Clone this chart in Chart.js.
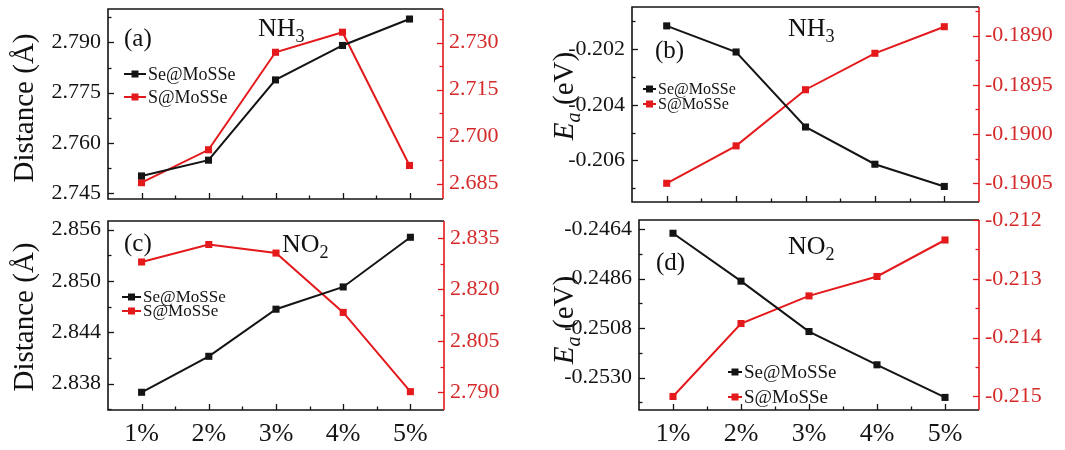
<!DOCTYPE html>
<html>
<head>
<meta charset="utf-8">
<script src="https://cdn.jsdelivr.net/npm/chart.js@4.4.0/dist/chart.umd.min.js"></script>
<style>
html, body { margin: 0; padding: 0; background: #fff; }
#wrap { position: relative; width: 1065px; height: 450px; overflow: hidden; font-family: "Liberation Serif", "Times New Roman", serif; color: #111; }
#wrap canvas { position: absolute; left: 0; top: 0; }
.t { position: absolute; white-space: nowrap; line-height: 1; }
.rot { transform: translate(-50%, -50%) rotate(-90deg); font-size: 29px; }
.lab { font-size: 25px; }
.gas { font-size: 26px; }
sub { font-size: 0.7em; vertical-align: -0.35em; line-height: 0; }
</style>
</head>
<body>
<div id="wrap">
  <canvas id="ca" width="1065" height="450"></canvas>
  <canvas id="cb" width="1065" height="450"></canvas>
  <canvas id="cc" width="1065" height="450"></canvas>
  <canvas id="cd" width="1065" height="450"></canvas>

  <div class="t rot" style="left:23px;top:108px">Distance (Å)</div>
  <div class="t rot" style="left:23px;top:317px">Distance (Å)</div>
  <div class="t rot" style="left:563px;top:96px"><i>E</i><sub><i>a</i></sub> (eV)</div>
  <div class="t rot" style="left:563px;top:320px"><i>E</i><sub><i>a</i></sub> (eV)</div>

  <div class="t lab" style="left:124px;top:25px">(a)</div>
  <div class="t gas" style="left:258px;top:15px">NH<sub>3</sub></div>
  <div class="t lab" style="left:655px;top:37px">(b)</div>
  <div class="t gas" style="left:788px;top:15px">NH<sub>3</sub></div>
  <div class="t lab" style="left:124px;top:230px">(c)</div>
  <div class="t gas" style="left:282px;top:231px">NO<sub>2</sub></div>
  <div class="t lab" style="left:656px;top:249px">(d)</div>
  <div class="t gas" style="left:788px;top:233px">NO<sub>2</sub></div>
</div>
<script>
// strain levels and the two adsorption sites
const categories = ["1%", "2%", "3%", "4%", "5%"];
const seriesNames = ["Se@MoSSe", "S@MoSSe"];

// (a) NH3 distance, (b) NH3 Ea
const distNH3Se = [2.7501, 2.7548, 2.7788, 2.7891, 2.7970];
const distNH3S = [2.6853, 2.6958, 2.7269, 2.7333, 2.6908];
const eaNH3Se = [-0.20116, -0.2021, -0.2048, -0.20614, -0.20694];
const eaNH3S = [-0.1905, -0.19012, -0.18955, -0.18918, -0.18891];

// (c) NO2 distance, (d) NO2 Ea
const distNO2Se = [2.8370, 2.8412, 2.8467, 2.8493, 2.8551];
const distNO2S = [2.8280, 2.8331, 2.8306, 2.8133, 2.7902];
const eaNO2Se = [-0.24658, -0.24871, -0.25095, -0.25243, -0.25388];
const eaNO2S = [-0.2150, -0.21376, -0.21329, -0.21296, -0.21234];

// tick labels
const ticksDistNH3L = [2.745, 2.760, 2.775, 2.790];
const ticksDistNH3R = [2.685, 2.700, 2.715, 2.730];
const ticksEaNH3L = [-0.206, -0.204, -0.202];
const ticksEaNH3R = [-0.1905, -0.1900, -0.1895, -0.1890];
const ticksDistNO2L = [2.838, 2.844, 2.850, 2.856];
const ticksDistNO2R = [2.790, 2.805, 2.820, 2.835];
const ticksEaNO2L = [-0.2530, -0.2508, -0.2486, -0.2464];
const ticksEaNO2R = [-0.215, -0.214, -0.213, -0.212];

const W = 1065, H = 450;
const FONT = '"Liberation Serif", "Times New Roman", serif';
const BLACK = "#141414";
const RED = "#e3191c";
const RED_TXT = "#d42a2a";

const panels = [
	{ id: "ca", se: distNH3Se, s: distNH3S, lt: ticksDistNH3L, rt: ticksDistNH3R, ld: 3, rd: 3,
	  box: { l: 108, t: 9, r: 443, b: 199 }, yl: [2.7432, 2.8000], yr: [2.6801, 2.7407], xLabels: false,
	  legend: { x0: 124, x1: 146, y: [74, 97], size: 18 } },
	{ id: "cb", se: eaNH3Se, s: eaNH3S, lt: ticksEaNH3L, rt: ticksEaNH3R, ld: 3, rd: 4,
	  box: { l: 632, t: 7, r: 979, b: 202 }, yl: [-0.2075, -0.20048], yr: [-0.19069, -0.18871], xLabels: false,
	  legend: { x0: 643, x1: 656, y: [89, 104], size: 16 } },
	{ id: "cc", se: distNO2Se, s: distNO2S, lt: ticksDistNO2L, rt: ticksDistNO2R, ld: 3, rd: 3,
	  box: { l: 108, t: 221, r: 444, b: 410 }, yl: [2.83493, 2.8570], yr: [2.78485, 2.83995], xLabels: true,
	  legend: { x0: 122, x1: 141, y: [297, 311], size: 17 } },
	{ id: "cd", se: eaNO2Se, s: eaNO2S, lt: ticksEaNO2L, rt: ticksEaNO2R, ld: 4, rd: 3,
	  box: { l: 639, t: 220, r: 979, b: 410 }, yl: [-0.25444, -0.24599], yr: [-0.21523, -0.2120], xLabels: true,
	  legend: { x0: 728, x1: 742, y: [372, 397], size: 19 } },
];

function drawAxisTicks(ctx, scale, ticks, x, dir, color) {
	const half = (ticks[1] - ticks[0]) / 2;
	const eps = Math.abs(half) * 0.01;
	ctx.strokeStyle = color;
	for (let k = -30; k <= 40; k++) {
		const v = ticks[0] + k * half;
		if (v < scale.min - eps || v > scale.max + eps) continue;
		const y = Math.round(scale.getPixelForValue(v)) + 0.5;
		const len = k % 2 === 0 ? 6 : 3.5;
		ctx.beginPath();
		ctx.moveTo(x, y);
		ctx.lineTo(x + dir * len, y);
		ctx.stroke();
	}
}

function makeFrame(p) {
	return {
		id: "frame" + p.id,
		afterDatasetsDraw(chart) {
			const ctx = chart.ctx;
			const a = chart.chartArea;
			const xs = chart.scales.x;
			ctx.save();
			ctx.lineWidth = 1.6;
			// box
			ctx.strokeStyle = BLACK;
			ctx.beginPath();
			ctx.moveTo(a.right, a.top);
			ctx.lineTo(a.left, a.top);
			ctx.lineTo(a.left, a.bottom);
			ctx.lineTo(a.right, a.bottom);
			ctx.stroke();
			ctx.strokeStyle = RED;
			ctx.beginPath();
			ctx.moveTo(a.right, a.top);
			ctx.lineTo(a.right, a.bottom);
			ctx.stroke();
			// inward ticks
			ctx.lineWidth = 1.3;
			drawAxisTicks(ctx, chart.scales.y, p.lt, a.left, 1, BLACK);
			drawAxisTicks(ctx, chart.scales.y1, p.rt, a.right, -1, RED);
			ctx.strokeStyle = BLACK;
			for (let i = 0; i < categories.length; i++) {
				const x = Math.round(xs.getPixelForValue(i)) + 0.5;
				ctx.beginPath();
				ctx.moveTo(x, a.bottom);
				ctx.lineTo(x, a.bottom - 6);
				ctx.stroke();
				if (i < categories.length - 1) {
					const xm = Math.round((xs.getPixelForValue(i) + xs.getPixelForValue(i + 1)) / 2) + 0.5;
					ctx.beginPath();
					ctx.moveTo(xm, a.bottom);
					ctx.lineTo(xm, a.bottom - 3.5);
					ctx.stroke();
				}
			}
			// legend
			const lg = p.legend;
			ctx.font = lg.size + "px " + FONT;
			ctx.textBaseline = "middle";
			chart.data.datasets.forEach((ds, i) => {
				const y = lg.y[i];
				ctx.strokeStyle = ds.borderColor;
				ctx.lineWidth = 2;
				ctx.beginPath();
				ctx.moveTo(lg.x0, y);
				ctx.lineTo(lg.x1, y);
				ctx.stroke();
				ctx.fillStyle = ds.borderColor;
				ctx.fillRect((lg.x0 + lg.x1) / 2 - 3.5, y - 3.5, 7, 7);
				ctx.fillStyle = BLACK;
				ctx.fillText(ds.label, lg.x1 + 2, y + 1);
			});
			ctx.restore();
		},
	};
}

function fitY(width) {
	return (s) => {
		s.width = width;
		s.paddingTop = 0;
		s.paddingBottom = 0;
	};
}

function makeChart(p) {
	new Chart(document.getElementById(p.id), {
		type: "line",
		data: {
			labels: categories,
			datasets: [
				{ label: seriesNames[0], data: p.se, yAxisID: "y", borderColor: BLACK, backgroundColor: BLACK,
				  borderWidth: 2, pointStyle: "rect", pointRadius: 5, pointBorderWidth: 0, tension: 0 },
				{ label: seriesNames[1], data: p.s, yAxisID: "y1", borderColor: RED, backgroundColor: RED,
				  borderWidth: 2, pointStyle: "rect", pointRadius: 5, pointBorderWidth: 0, tension: 0 },
			],
		},
		options: {
			responsive: false,
			animation: false,
			layout: { padding: { top: p.box.t, left: 0, right: 0, bottom: 0 } },
			plugins: { legend: { display: false }, tooltip: { enabled: false } },
			scales: {
				x: {
					offset: true,
					grid: { display: false, drawTicks: false },
					border: { display: false },
					ticks: { display: p.xLabels, color: BLACK, font: { family: FONT, size: 26 }, padding: 9 },
					afterFit: (s) => {
						s.height = H - p.box.b;
						s.paddingLeft = 0;
						s.paddingRight = 0;
					},
				},
				y: {
					position: "left",
					min: p.yl[0],
					max: p.yl[1],
					grid: { display: false, drawTicks: false },
					border: { display: false },
					afterBuildTicks: (s) => { s.ticks = p.lt.map((v) => ({ value: v })); },
					ticks: { color: BLACK, font: { family: FONT, size: 22 }, padding: 7, autoSkip: false,
					         callback: (v) => Number(v).toFixed(p.ld) },
					afterFit: fitY(p.box.l),
				},
				y1: {
					position: "right",
					min: p.yr[0],
					max: p.yr[1],
					grid: { display: false, drawTicks: false },
					border: { display: false },
					afterBuildTicks: (s) => { s.ticks = p.rt.map((v) => ({ value: v })); },
					ticks: { color: RED_TXT, font: { family: FONT, size: 22 }, padding: 6, autoSkip: false,
					         callback: (v) => Number(v).toFixed(p.rd) },
					afterFit: fitY(W - p.box.r),
				},
			},
		},
		plugins: [makeFrame(p)],
	});
}

panels.forEach(makeChart);
</script>
</body>
</html>
